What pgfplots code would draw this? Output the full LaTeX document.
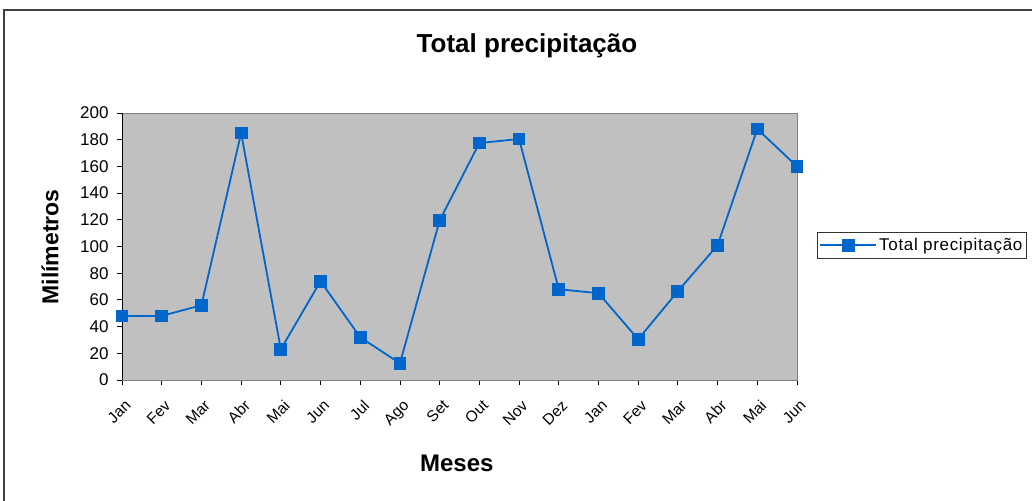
\documentclass[border=0pt]{standalone}
\usepackage{pgfplots}
\pgfplotsset{compat=1.18}
\usepackage{fontspec}
\setmainfont{Liberation Sans}
\definecolor{serie}{RGB}{0,102,204}
\definecolor{plotbg}{RGB}{192,192,192}
\begin{document}
\begin{tikzpicture}
\useasboundingbox (0pt,0pt) rectangle (1032pt,500pt);
\clip (0pt,0pt) rectangle (1032pt,500pt);
\draw[line width=1.5pt, black!75] (4pt,-20pt) rectangle (1050pt,490pt);
\begin{axis}[
  at={(122pt,120pt)}, anchor=south west,
  scale only axis, width=675pt, height=267pt,
  xmin=0, xmax=17, ymin=0, ymax=200,
  axis background/.style={fill=plotbg},
  axis line style={black!50, line width=0.8pt},
  xtick={0,...,17},
  xticklabels={Jan,Fev,Mar,Abr,Mai,Jun,Jul,Ago,Set,Out,Nov,Dez,Jan,Fev,Mar,Abr,Mai,Jun},
  ytick={0,20,...,200},
  xtick pos=bottom, ytick pos=left,
  tick align=outside, major tick length=5pt,
  tick style={black, line width=0.8pt},
  /pgf/number format/assume math mode=true,
  yticklabel style={font=\fontsize{17}{19}\selectfont, xshift=-5pt},
  xticklabel style={font=\fontsize{15.5}{17}\selectfont, rotate=45, anchor=north east, xshift=-5pt, yshift=-8pt},
  title={Total precipitação},
  title style={at={(0.6,1.228)}, anchor=center, font=\bfseries\fontsize{26}{30}\selectfont},
  xlabel={Meses},
  xlabel style={at={(0.496,-0.311)}, anchor=center, font=\bfseries\fontsize{24}{28}\selectfont},
  ylabel={Milímetros},
  ylabel style={at={(-0.1067,0.498)}, anchor=center, rotate=0, font=\bfseries\fontsize{23}{27}\selectfont},
  legend style={at={(1.0296,0.554)}, anchor=north west, draw=black!80, line width=0.8pt,
    font=\fontsize{17}{20}\selectfont\addfontfeature{LetterSpace=4}, inner xsep=2pt, inner ysep=4pt},
  legend cell align=left,
  legend image code/.code={\draw[#1, line width=1.8pt, mark repeat=2, mark phase=2] plot coordinates {(0pt,0pt) (28pt,0pt) (56pt,0pt)};},
]
\draw[black, line width=0.8pt] (rel axis cs:0,0) -- (rel axis cs:0,1);
\draw[black, line width=0.8pt] (rel axis cs:0,0) -- (rel axis cs:1,0);
\addplot[serie, line width=1.8pt, mark=square*, mark size=5.5pt, mark options={fill=serie, draw=serie}]
  coordinates {(0,48) (1,48) (2,56) (3,185) (4,23) (5,74) (6,32) (7,12.5) (8,119.5) (9,177.5) (10,180.5) (11,68) (12,65) (13,30.5) (14,66.5) (15,101) (16,188) (17,160)};
\addlegendentry{Total precipitação}
\end{axis}
\end{tikzpicture}
\end{document}
